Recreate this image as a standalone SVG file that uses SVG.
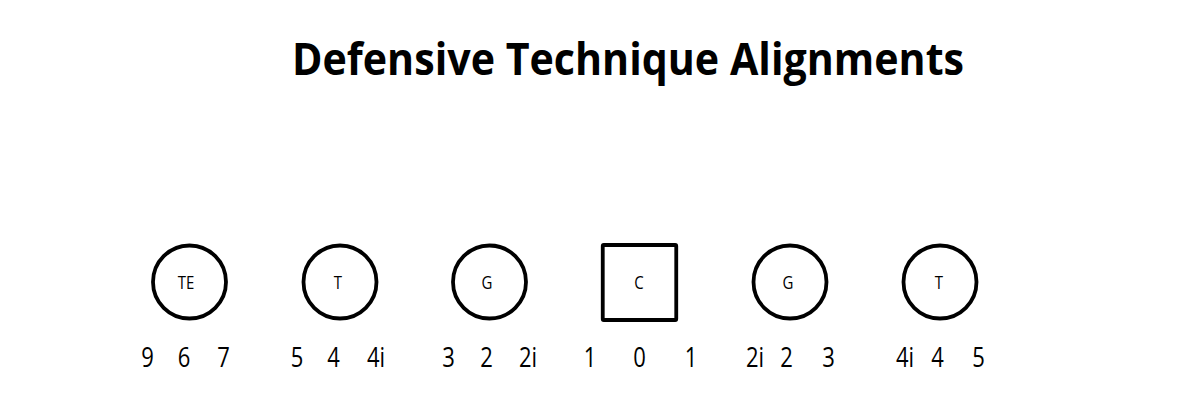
<svg xmlns="http://www.w3.org/2000/svg" width="1200" height="414" viewBox="0 0 1200 414">
<style>
.shape{fill:none;stroke:#000;stroke-width:3.8}
.lbl{font-family:"Open Sans","Liberation Sans",sans-serif;font-size:15px;fill:#000;text-anchor:middle}
.num{font-family:"Open Sans","Liberation Sans",sans-serif;font-size:22px;fill:#000;text-anchor:middle}
.title{font-family:"Open Sans","Liberation Sans",sans-serif;font-size:36px;font-weight:bold;fill:#000}
</style>
<rect width="1200" height="414" fill="#fff"/>
<text class="title" transform="translate(292,75) scale(1,1.25)" textLength="672" lengthAdjust="spacingAndGlyphs">Defensive Technique Alignments</text>
<g id="connectors"></g>
<g id="node-TE"><circle class="shape" cx="189.5" cy="282" r="36.5"/><text class="lbl" transform="translate(186,289) scale(1,1.2)">TE</text></g>
<g id="node-T-left"><circle class="shape" cx="340" cy="282" r="36.5"/><text class="lbl" transform="translate(338,289) scale(1,1.2)">T</text></g>
<g id="node-G-left"><circle class="shape" cx="489.5" cy="282" r="36.5"/><text class="lbl" transform="translate(487,289) scale(1,1.2)">G</text></g>
<g id="node-C"><rect class="shape" x="602.75" y="245" width="73.5" height="75" rx="1"/><text class="lbl" transform="translate(639,289) scale(1,1.2)">C</text></g>
<g id="node-G-right"><circle class="shape" cx="790" cy="282" r="36.5"/><text class="lbl" transform="translate(788,289) scale(1,1.2)">G</text></g>
<g id="node-T-right"><circle class="shape" cx="940" cy="282" r="36.5"/><text class="lbl" transform="translate(939,289) scale(1,1.2)">T</text></g>
<g id="numbers">
<text class="num" transform="translate(147.5,367) scale(1,1.28)">9</text>
<text class="num" transform="translate(184,367) scale(1,1.28)">6</text>
<text class="num" transform="translate(223.5,367) scale(1,1.28)">7</text>
<text class="num" transform="translate(297,367) scale(1,1.28)">5</text>
<text class="num" transform="translate(333.5,367) scale(1,1.28)">4</text>
<text class="num" transform="translate(376,367) scale(1,1.28)">4i</text>
<text class="num" transform="translate(448.5,367) scale(1,1.28)">3</text>
<text class="num" transform="translate(486.5,367) scale(1,1.28)">2</text>
<text class="num" transform="translate(528,367) scale(1,1.28)">2i</text>
<text class="num" transform="translate(590,367) scale(1,1.28)">1</text>
<text class="num" transform="translate(639.5,367) scale(1,1.28)">0</text>
<text class="num" transform="translate(691,367) scale(1,1.28)">1</text>
<text class="num" transform="translate(755,367) scale(1,1.28)">2i</text>
<text class="num" transform="translate(786.5,367) scale(1,1.28)">2</text>
<text class="num" transform="translate(828.5,367) scale(1,1.28)">3</text>
<text class="num" transform="translate(905,367) scale(1,1.28)">4i</text>
<text class="num" transform="translate(937.5,367) scale(1,1.28)">4</text>
<text class="num" transform="translate(978.5,367) scale(1,1.28)">5</text>
</g>
</svg>
